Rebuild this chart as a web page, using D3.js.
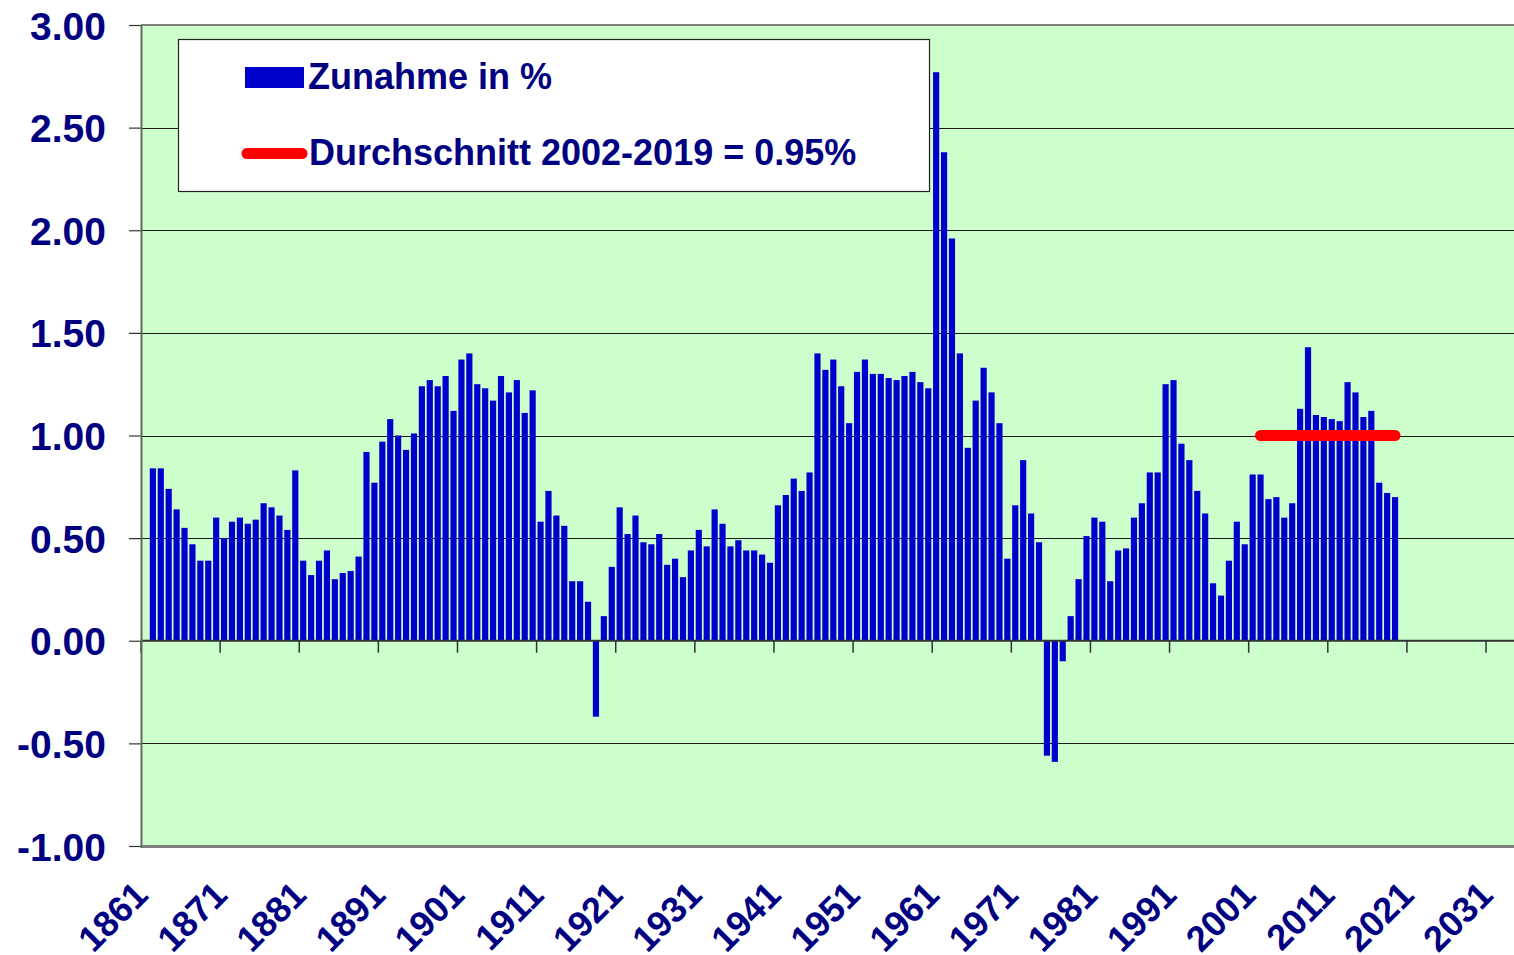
<!DOCTYPE html>
<html>
<head>
<meta charset="utf-8">
<script src="https://cdn.jsdelivr.net/npm/d3@7"></script>
<style>
  html, body { margin: 0; padding: 0; background: #ffffff; }
  svg { display: block; }
  text { font-family: "Liberation Sans", Arial, sans-serif; font-weight: bold; fill: #000080; }
</style>
</head>
<body>
<svg id="chart" width="1514" height="955"></svg>
<script>
// ---------- data ----------
const firstYear = 1862;
const values = [
  0.84, 0.84, 0.74, 0.64, 0.55, 0.47, 0.39, 0.39, 0.60, 0.50,   // 1862-1871
  0.58, 0.60, 0.57, 0.59, 0.67, 0.65, 0.61, 0.54, 0.83, 0.39,   // 1872-1881
  0.32, 0.39, 0.44, 0.30, 0.33, 0.34, 0.41, 0.92, 0.77, 0.97,   // 1882-1891
  1.08, 1.00, 0.93, 1.01, 1.24, 1.27, 1.24, 1.29, 1.12, 1.37,   // 1892-1901
  1.40, 1.25, 1.23, 1.17, 1.29, 1.21, 1.27, 1.11, 1.22, 0.58,   // 1902-1911
  0.73, 0.61, 0.56, 0.29, 0.29, 0.19, -0.37, 0.12, 0.36, 0.65,  // 1912-1921
  0.52, 0.61, 0.48, 0.47, 0.52, 0.37, 0.40, 0.31, 0.44, 0.54,   // 1922-1931
  0.46, 0.64, 0.57, 0.46, 0.49, 0.44, 0.44, 0.42, 0.38, 0.66,   // 1932-1941
  0.71, 0.79, 0.73, 0.82, 1.40, 1.32, 1.37, 1.24, 1.06, 1.31,   // 1942-1951
  1.37, 1.30, 1.30, 1.28, 1.27, 1.29, 1.31, 1.26, 1.23, 2.77,   // 1952-1961
  2.38, 1.96, 1.40, 0.94, 1.17, 1.33, 1.21, 1.06, 0.40, 0.66,   // 1962-1971
  0.88, 0.62, 0.48, -0.56, -0.59, -0.10, 0.12, 0.30, 0.51, 0.60, // 1972-1981
  0.58, 0.29, 0.44, 0.45, 0.60, 0.67, 0.82, 0.82, 1.25, 1.27,   // 1982-1991
  0.96, 0.88, 0.73, 0.62, 0.28, 0.22, 0.39, 0.58, 0.47, 0.81,   // 1992-2001
  0.81, 0.69, 0.70, 0.60, 0.67, 1.13, 1.43, 1.10, 1.09, 1.08,   // 2002-2011
  1.07, 1.26, 1.21, 1.09, 1.12, 0.77, 0.72, 0.70                // 2012-2019
];
const years = values.map((v, i) => firstYear + i);
const axisCategories = d3.range(1861, 2035);          // category slots on the x axis
const xTickLabels = ["1861","1871","1881","1891","1901","1911","1921","1931","1941",
                     "1951","1961","1971","1981","1991","2001","2011","2021","2031"];
const yTicks = [-1.0, -0.5, 0.0, 0.5, 1.0, 1.5, 2.0, 2.5, 3.0];
const avgStartYear = 2002, avgEndYear = 2019, avgValue = 1.00;
const legendLabels = ["Zunahme in %", "Durchschnitt 2002-2019 = 0.95%"];

// ---------- layout ----------
const svg = d3.select("#chart");
const plot = { left: 141, top: 25, bottom: 846, step: 7.912 };
plot.right = plot.left + axisCategories.length * plot.step;

const x = d3.scaleBand().domain(axisCategories).range([plot.left, plot.right]).paddingInner(0.22).paddingOuter(0.11);
const xs = d3.scaleBand().domain(axisCategories).range([plot.left, plot.right]).padding(0); // slot boundaries
const y = d3.scaleLinear().domain([-1, 3]).range([plot.bottom, plot.top]);

// plot background
svg.append("rect")
  .attr("x", plot.left).attr("y", plot.top)
  .attr("width", plot.right - plot.left).attr("height", plot.bottom - plot.top)
  .attr("fill", "#ccffcc");

// gridlines
svg.append("g").selectAll("line").data(yTicks.filter(t => t !== 0)).join("line")
  .attr("x1", plot.left).attr("x2", plot.right)
  .attr("y1", d => Math.round(y(d)) + 0.5).attr("y2", d => Math.round(y(d)) + 0.5)
  .attr("stroke", "#1a1a1a").attr("stroke-width", 1);

// y axis ticks + labels
const fmt = d3.format(".2f");
const yAxis = d3.axisLeft(y).tickValues(yTicks).tickSize(12)
  .tickFormat(d => fmt(d).replace("\u2212", "-"));
const gy = svg.append("g").attr("transform", `translate(${plot.left},0)`).call(yAxis);
gy.select(".domain").remove();
gy.selectAll(".tick line").attr("stroke", "#333").attr("stroke-width", 1.2);
gy.selectAll(".tick text")
  .attr("x", -35).attr("dy", "0.36em")
  .style("font-size", "39px").style("font-family", "'Liberation Sans', Arial, sans-serif")
  .style("font-weight", "bold").attr("fill", "#000080");

// bars
svg.append("g").selectAll("rect").data(values).join("rect")
  .attr("x", (d, i) => x(years[i]))
  .attr("width", x.bandwidth())
  .attr("y", d => y(Math.max(0, d)))
  .attr("height", d => Math.abs(y(d) - y(0)))
  .attr("fill", "#0000cc");

// zero axis line
svg.append("line")
  .attr("x1", plot.left).attr("x2", plot.right)
  .attr("y1", y(0)).attr("y2", y(0))
  .attr("stroke", "#333").attr("stroke-width", 2);

// x tick marks (category boundaries every 10 years)
const tickYears = xTickLabels.map(Number);
svg.append("g").selectAll("line").data(tickYears).join("line")
  .attr("x1", d => xs(d)).attr("x2", d => xs(d))
  .attr("y1", y(0)).attr("y2", y(0) + 12)
  .attr("stroke", "#333").attr("stroke-width", 1.5);

// x labels, rotated
svg.append("g").selectAll("text").data(xTickLabels).join("text")
  .attr("transform", d => `translate(${xs(+d) + xs.bandwidth() / 2 + 5},897) rotate(-45)`)
  .attr("text-anchor", "end")
  .style("font-size", "36px")
  .text(d => d);

// average line
svg.append("line")
  .attr("x1", xs(avgStartYear) + xs.bandwidth() / 2)
  .attr("x2", xs(avgEndYear) + xs.bandwidth() / 2)
  .attr("y1", y(avgValue)).attr("y2", y(avgValue))
  .attr("stroke", "#ff0000").attr("stroke-width", 11).attr("stroke-linecap", "round");

// plot borders
svg.append("line").attr("x1", plot.left).attr("x2", plot.right).attr("y1", plot.top).attr("y2", plot.top)
  .attr("stroke", "#808080").attr("stroke-width", 2);
svg.append("line").attr("x1", plot.left).attr("x2", plot.right).attr("y1", plot.bottom + 0.5).attr("y2", plot.bottom + 0.5)
  .attr("stroke", "#808080").attr("stroke-width", 3);
svg.append("line").attr("x1", plot.left + 0.5).attr("x2", plot.left + 0.5).attr("y1", plot.top).attr("y2", plot.bottom + 2)
  .attr("stroke", "#666").attr("stroke-width", 2);

// legend
const lg = svg.append("g");
lg.append("rect").attr("x", 178.5).attr("y", 39.5).attr("width", 751).attr("height", 152)
  .attr("fill", "#ffffff").attr("stroke", "#222").attr("stroke-width", 1.2);
lg.append("rect").attr("x", 245).attr("y", 67).attr("width", 59).attr("height", 21).attr("fill", "#0000cc");
lg.append("text").attr("x", 308).attr("y", 88.5).style("font-size", "36px").text(legendLabels[0]);
lg.append("line").attr("x1", 247).attr("x2", 302).attr("y1", 153.5).attr("y2", 153.5)
  .attr("stroke", "#ff0000").attr("stroke-width", 11).attr("stroke-linecap", "round");
lg.append("text").attr("x", 309).attr("y", 165).style("font-size", "36px").text(legendLabels[1]);
</script>
</body>
</html>
